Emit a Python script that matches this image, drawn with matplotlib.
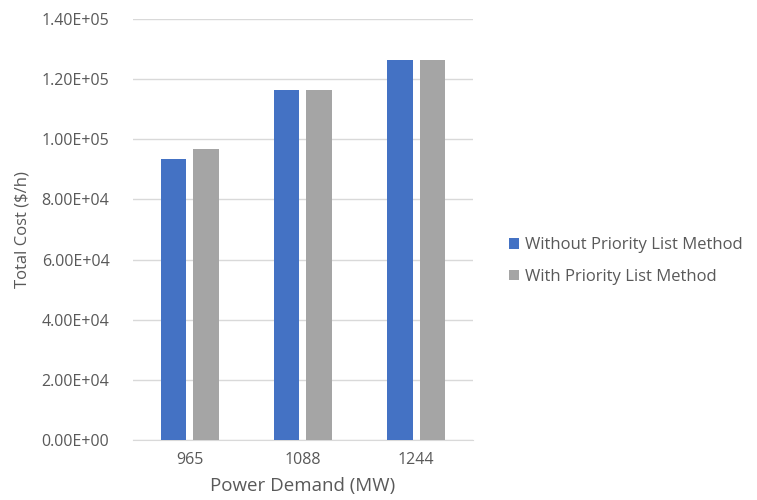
import numpy as np
import matplotlib.pyplot as plt

demand = ["965", "1088", "1244"]
without_pl = [93350, 116400, 126400]
with_pl = [96700, 116400, 126400]
series_names = ["Without Priority List Method", "With Priority List Method"]

plt.rcParams["font.family"] = ["Open Sans", "DejaVu Sans"]

fig = plt.figure(figsize=(7.57, 5), dpi=100)
ax = fig.add_axes([0.1757, 0.12, 0.449, 0.842])

x = np.arange(len(demand))
w = 0.225
b1 = ax.bar(x - 0.143, without_pl, w, color="#4472C4", label=series_names[0], zorder=3)
b2 = ax.bar(x + 0.143, with_pl, w, color="#A5A5A5", label=series_names[1], zorder=3)

ax.set_xlim(-0.5, 2.5)
ax.set_ylim(0, 140000)
yt = np.arange(0, 140001, 20000)
ax.set_yticks(yt)
ax.set_yticklabels([("%.2E" % v) for v in yt])
ax.set_xticks(x)
ax.set_xticklabels(demand)

ax.grid(axis="y", color="#D9D9D9", linewidth=1, zorder=0)
for s in ["top", "right", "left"]:
    ax.spines[s].set_visible(False)
ax.spines["bottom"].set_color("#D9D9D9")
ax.tick_params(axis="both", length=0, colors="#595959", labelsize=11.5)
ax.tick_params(axis="y", pad=17)
ax.tick_params(axis="x", pad=9)

ax.set_ylabel("Total Cost ($/h)", color="#595959", fontsize=12, labelpad=8)
ax.set_xlabel("Power Demand (MW)", color="#595959", fontsize=13.5, labelpad=6)

fig.legend(handles=[b1, b2], loc="center left", bbox_to_anchor=(0.652, 0.478),
           frameon=False, fontsize=12, labelcolor="#595959",
           handlelength=0.6, handleheight=0.6, handletextpad=0.4, labelspacing=0.95)

fig.savefig("out.png", dpi=100)
